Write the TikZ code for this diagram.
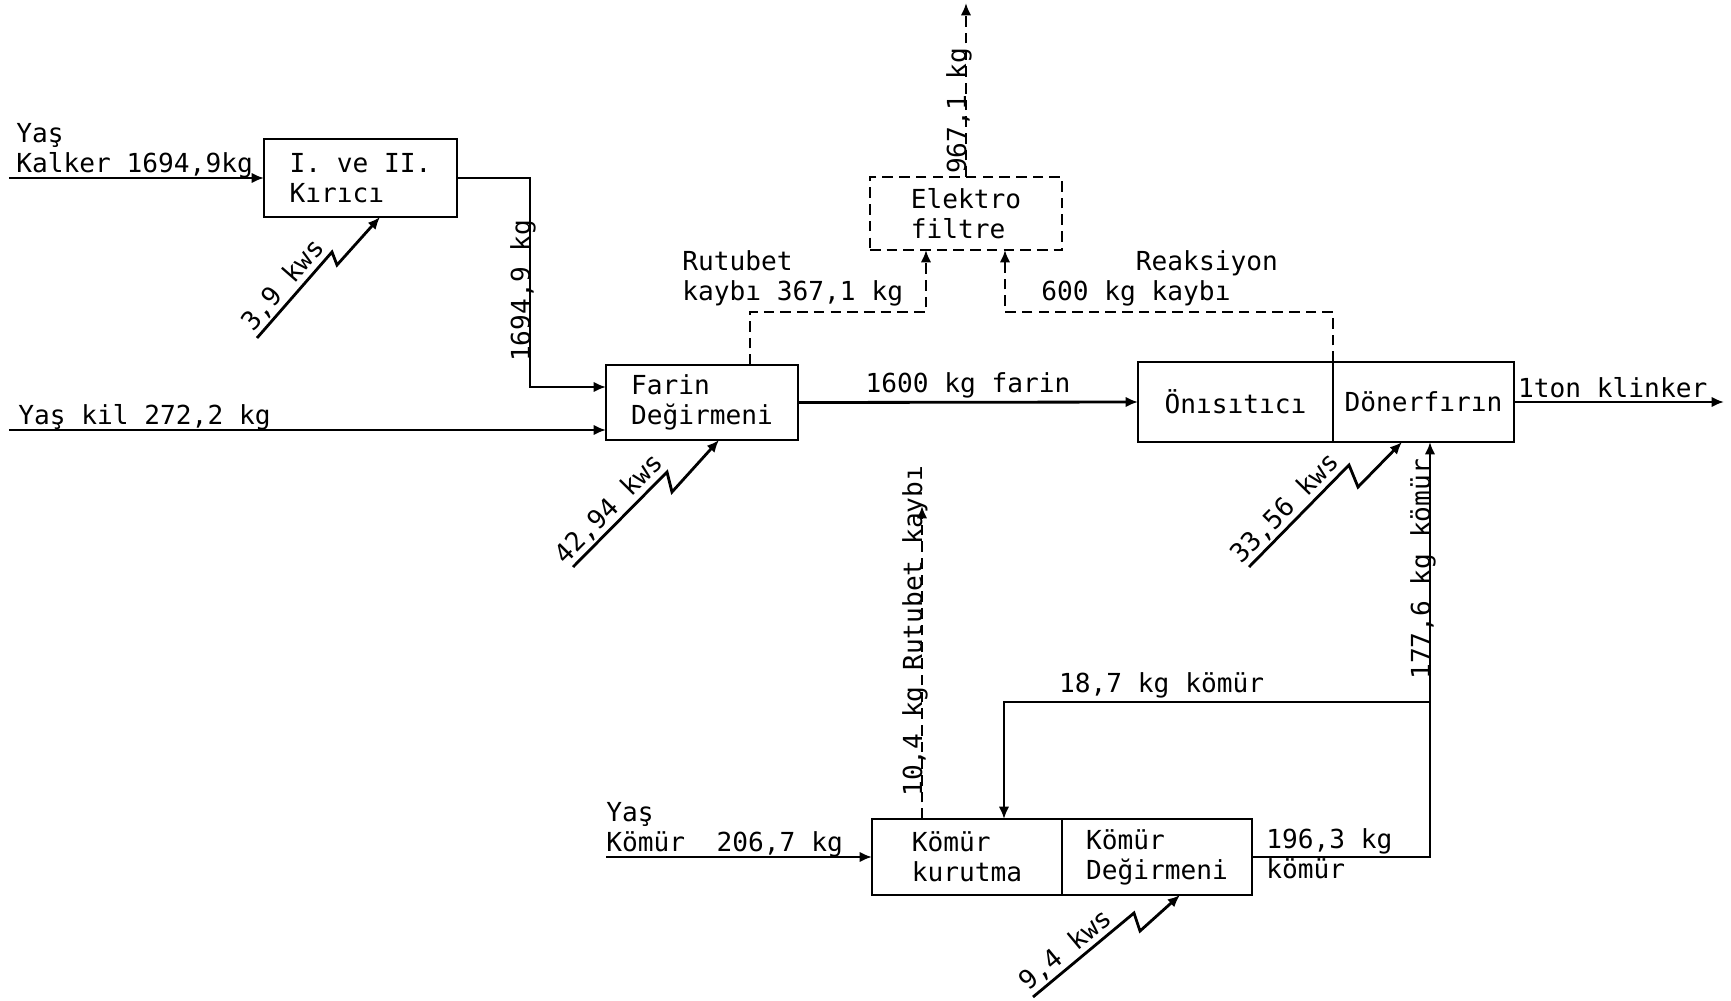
\documentclass[tikz,border=0pt]{standalone}
\usepackage{fontspec}
\setmainfont{DejaVu Sans Mono}
\usetikzlibrary{positioning,arrows.meta}

\tikzset{
  flow/.style={line width=1.6pt,-{Latex[length=7pt,width=6pt]}},
  loss/.style={flow,dash pattern=on 6pt off 3.5pt},
  power/.style={flow,line join=miter},
  unit/.style={draw,line width=1.6pt,outer sep=0pt,align=left,inner sep=0pt},
  lbl/.style={inner sep=0pt,align=left},
  vlbl/.style={rotate=90,anchor=base},
  kw/.style={sloped,above,inner sep=1pt},
  onlbl/.style={above,inner sep=1.5pt},
}

\begin{document}
\begin{tikzpicture}[font=\fontsize{14.9}{17}\selectfont]
  \useasboundingbox (0,0) rectangle (34.62,-20);

  % units
  \node[unit,minimum width=3.86cm,minimum height=1.56cm] (kirici) at (7.21,-3.56) {I. ve II.\\Kırıcı};
  \node[unit,minimum width=3.84cm,minimum height=1.5cm] (farin) at (14.04,-8.05) {Farin\\Değirmeni};
  \node[unit,dash pattern=on 6pt off 3.5pt,minimum width=3.84cm,minimum height=1.46cm] (elektro) at (19.32,-4.27) {Elektro\\filtre};
  \node[unit,minimum width=3.9cm,minimum height=1.6cm] (onisitici) at (24.71,-8.04) {Önısıtıcı};
  \node[unit,minimum width=3.62cm,minimum height=1.6cm,right=0pt of onisitici] (donerfirin) {Dönerfırın};
  \node[unit,minimum width=3.8cm,minimum height=1.52cm] (kurutma) at (19.34,-17.14) {Kömür\\kurutma};
  \node[unit,minimum width=3.8cm,minimum height=1.52cm,right=0pt of kurutma] (kdeg) {Kömür\\Değirmeni};

  % free ends and bends
  \coordinate (kin) at (0.18,-3.56);
  \coordinate (kilin) at (0.18,-8.6);
  \coordinate (kbend) at (10.6,-7.74);
  \coordinate (klinker) at (34.48,-8.04);
  \coordinate (fgas) at (19.32,-0.06);
  \coordinate (rutA) at (15,-6.24);
  \coordinate (rutB) at (18.52,-6.24);
  \coordinate (reaB) at (20.1,-6.24);
  \coordinate (kmin) at (12.12,-17.14);
  \coordinate (cA) at (28.6,-14.04);
  \coordinate (cB) at (20.08,-14.04);
  \coordinate (nem) at (18.44,-10.12);
  \coordinate (pw1) at (5.14,-6.76);
  \coordinate (pw2) at (11.46,-11.34);
  \coordinate (pw3) at (24.98,-11.34);
  \coordinate (pw4) at (20.66,-19.94);

  % raw material line
  \draw[flow] (kin) -- (kirici.west);
  \draw[flow] (kirici.east) -| node[vlbl,pos=.77]{1694,9 kg} (kbend) -- (kbend -| farin.west);
  \draw[flow] (kilin) -- (kilin -| farin.west);
  \draw[flow] (farin.east) -- node[onlbl]{1600 kg farin} (onisitici.west);
  \draw[flow] (donerfirin.east) -- node[onlbl,pos=.47]{1ton klinker} (klinker);

  % losses to the filter
  \draw[loss] (farin.north -| rutA) -- (rutA) -- (rutB) -- (elektro.south -| rutB);
  \draw[loss] (onisitici.north east) -- (onisitici.north east |- rutA) -- (reaB) -- (elektro.south -| reaB);
  \draw[loss] (elektro.north) -- node[vlbl,pos=.38]{967,1 kg} (fgas);

  % coal line
  \draw[flow] (kmin) -- (kurutma.west);
  \draw[flow] (kdeg.east) -| (cA) -- node[vlbl,pos=.51]{177,6 kg kömür} (donerfirin.south -| cA);
  \draw[flow] (cA) -- node[onlbl,pos=.63]{18,7 kg kömür} (cB) -- (kurutma.north -| cB);
  \draw[loss] (kurutma.north -| nem) -- node[vlbl,pos=.6]{10,4 kg Rutubet kaybı} (nem);

  % power
  \draw[power] (pw1) -- node[kw]{3,9 kws} ++(1.5,1.72) -- ++(0.1,-0.26) -- ([xshift=0.39cm]kirici.south);
  \draw[power] (pw2) -- node[kw]{42,94 kws} ++(1.88,1.9) -- ++(0.1,-0.4) -- ([xshift=0.34cm]farin.south);
  \draw[power] (pw3) -- node[kw,pos=.47]{33,56 kws} ++(2.0,2.04) -- ++(0.18,-0.44) -- ([xshift=-0.43cm]donerfirin.south);
  \draw[power] (pw4) -- node[kw,pos=.42]{9,4 kws} ++(2.02,1.68) -- ++(0.12,-0.36) -- ([xshift=0.46cm]kdeg.south);

  % labels
  \node[lbl,anchor=south west] (kalkerlbl) at (0.32,-3.56) {Yaş\\Kalker 1694,9kg};
  \node[lbl,anchor=south west] (killbl) at (0.36,-8.6) {Yaş kil 272,2 kg};
  \node[lbl,anchor=south west] (rutlbl) at (13.64,-6.12) {Rutubet\\kaybı 367,1 kg};
  \node[lbl,anchor=south west] (realbl) at (20.82,-6.12) {\phantom{600 kg}Reaksiyon\\600 kg kaybı};
  \node[lbl,anchor=south west] (komurlbl) at (12.12,-17.14) {Yaş\\Kömür~~206,7 kg};
  \node[lbl,anchor=west] (ktlbl) at (25.32,-17.08) {196,3 kg\\kömür};
\end{tikzpicture}
\end{document}
